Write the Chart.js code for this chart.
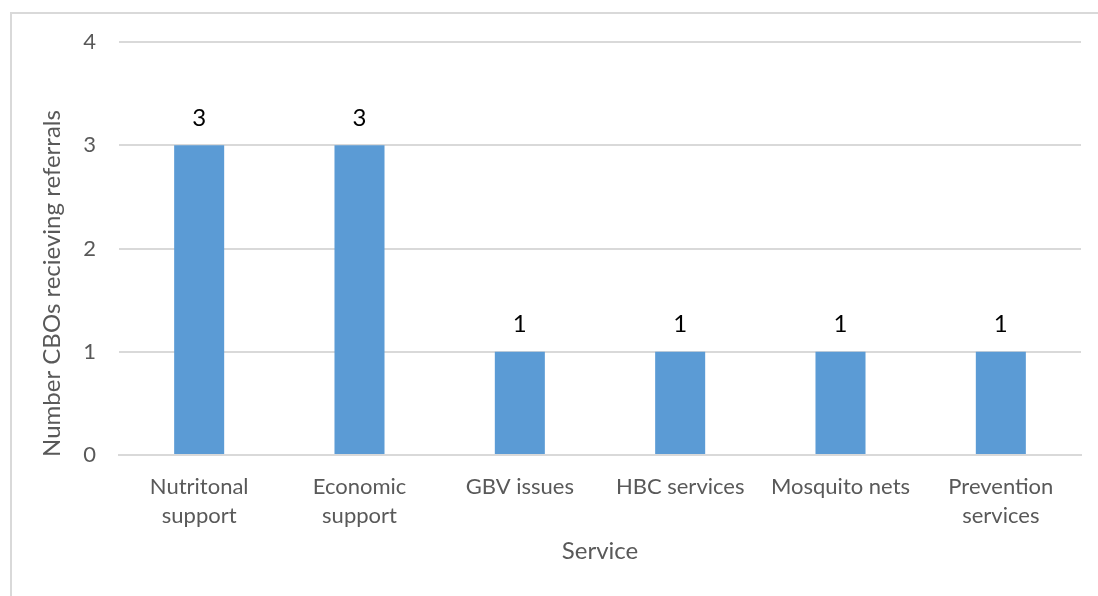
<!DOCTYPE html>
<html>
<head>
<meta charset="utf-8">
<script src="https://cdn.jsdelivr.net/npm/chart.js@4/dist/chart.umd.min.js"></script>
<style>
  html, body { margin: 0; padding: 0; background: #fff; }
  #wrap { position: relative; width: 1098px; height: 596px; }
</style>
</head>
<body>
<div id="wrap"><canvas id="cbo" width="1098" height="596"></canvas></div>
<script>
// categories and values
const services = [
    ['Nutritonal', 'support'],
    ['Economic', 'support'],
    'GBV issues',
    'HBC services',
    'Mosquito nets',
    ['Prevention', 'services']
];
const cboCounts = [3, 3, 1, 1, 1, 1];
const yTicks = [0, 1, 2, 3, 4];
const yTitle = 'Number CBOs recieving referrals';
const xTitle = 'Service';

const barColor = '#5b9bd5';
const gridColor = '#d9d9d9';
const textColor = '#595959';
const fontFamily = 'Lato, "Open Sans", sans-serif';

// outer frame like the office chart box
const framePlugin = {
    id: 'frame',
    beforeDraw(chart) {
        const ctx = chart.ctx;
        ctx.save();
        ctx.fillStyle = '#ffffff';
        ctx.fillRect(0, 0, chart.width, chart.height);
        ctx.strokeStyle = gridColor;
        ctx.lineWidth = 2;
        ctx.strokeRect(11, 13, 1200, 700);
        ctx.restore();
    }
};

// number above each bar + the y title (excel puts it lower than the axis middle)
const valueLabels = {
    id: 'valueLabels',
    afterDatasetsDraw(chart) {
        const ctx = chart.ctx;
        const meta = chart.getDatasetMeta(0);
        ctx.save();
        ctx.fillStyle = '#000000';
        ctx.font = '24px ' + fontFamily;
        ctx.textAlign = 'center';
        ctx.textBaseline = 'middle';
        meta.data.forEach(function(bar, i) {
            ctx.fillText(String(cboCounts[i]), bar.x, bar.y - 27);
        });
        ctx.restore();

        ctx.save();
        ctx.translate(60, 283.5);
        ctx.rotate(-Math.PI / 2);
        ctx.fillStyle = textColor;
        ctx.font = '24px ' + fontFamily;
        ctx.textAlign = 'center';
        ctx.textBaseline = 'alphabetic';
        ctx.fillText(yTitle, 0, 0);
        ctx.restore();
    }
};

const ctx = document.getElementById('cbo');
const chart = new Chart(ctx, {
    type: 'bar',
    data: {
        labels: services,
        datasets: [{
            data: cboCounts,
            backgroundColor: barColor,
            borderWidth: 0,
            categoryPercentage: 1,
            barPercentage: 0.312
        }]
    },
    options: {
        responsive: false,
        animation: false,
        layout: { padding: { left: 0, right: 17, top: 42, bottom: 0 } },
        plugins: {
            legend: { display: false },
            tooltip: { enabled: false }
        },
        scales: {
            x: {
                grid: { display: false, drawTicks: false },
                border: { display: true, color: gridColor, width: 2 },
                ticks: {
                    color: textColor,
                    font: { family: fontFamily, size: 22, lineHeight: 1.32 },
                    padding: 17,
                    maxRotation: 0,
                    autoSkip: false
                },
                title: {
                    display: true,
                    text: xTitle,
                    color: textColor,
                    font: { family: fontFamily, size: 24, lineHeight: 1.2 },
                    padding: { top: 0, bottom: 30 }
                },
                afterFit(scale) { scale.height = 141; }
            },
            y: {
                min: 0,
                max: 4,
                afterBuildTicks(scale) {
                    scale.ticks = yTicks.map(v => ({ value: v }));
                },
                grid: { color: gridColor, lineWidth: 2, drawTicks: false },
                border: { display: false },
                ticks: {
                    color: textColor,
                    font: { family: fontFamily, size: 22 },
                    padding: 23
                },
                afterFit(scale) { scale.width = 119; }
            }
        }
    },
    plugins: [framePlugin, valueLabels]
});
</script>
</body>
</html>
